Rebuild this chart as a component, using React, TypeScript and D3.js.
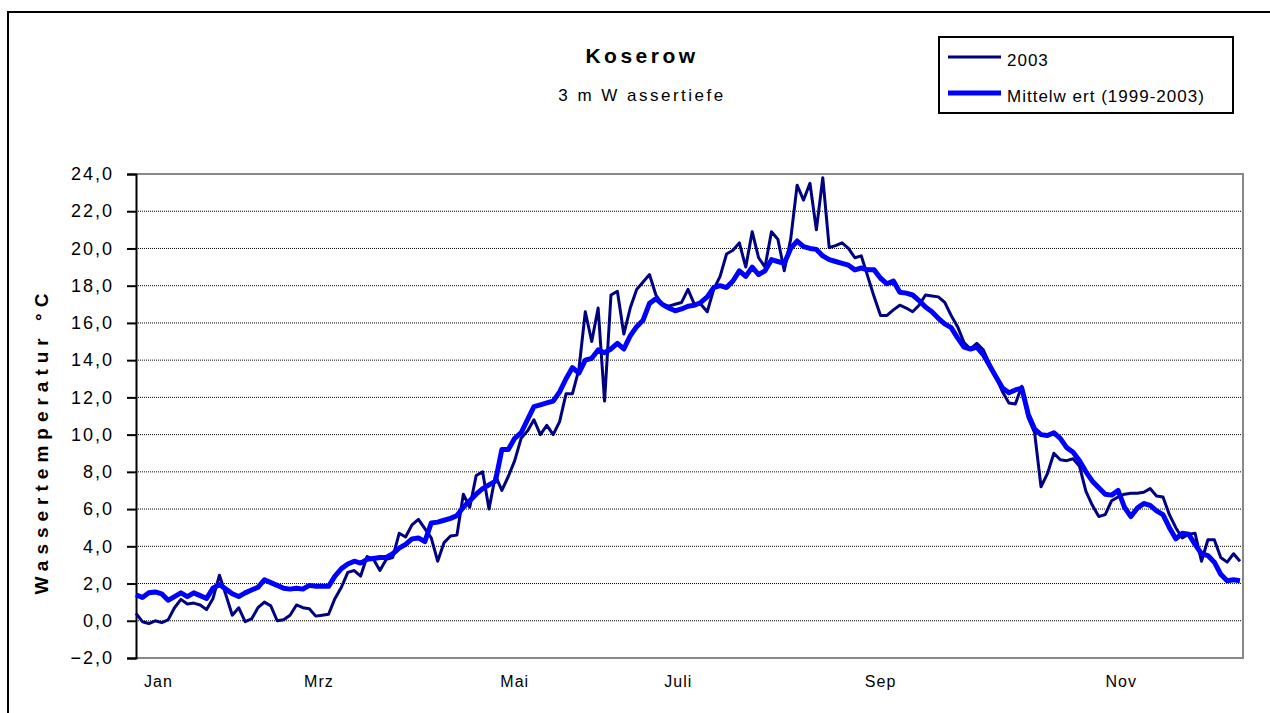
import * as d3 from "d3";
import { useEffect, useRef } from "react";

// Wassertemperatur in 3 m Tiefe, Werte alle 2 Tage
const values2003 = [
  0.4, -0.05, -0.15, 0.0, -0.1, 0.05, 0.7, 1.15, 0.9, 0.95,
  0.85, 0.6, 1.2, 2.45, 1.4, 0.3, 0.7, -0.05, 0.1, 0.7,
  1.0, 0.8, 0.0, 0.05, 0.3, 0.85, 0.7, 0.65, 0.25, 0.3,
  0.35, 1.2, 1.8, 2.6, 2.7, 2.4, 3.45, 3.3, 2.7, 3.3,
  3.4, 4.7, 4.5, 5.15, 5.45, 4.95, 4.45, 3.2, 4.2, 4.55,
  4.6, 6.8, 6.1, 7.8, 8.0, 6.0, 7.8, 7.0, 7.75, 8.6,
  9.8, 10.2, 10.8, 10.0, 10.5, 10.0, 10.7, 12.2, 12.2, 13.5,
  16.6, 15.0, 16.8, 11.8, 17.5, 17.7, 15.4, 16.8, 17.8, 18.2,
  18.6, 17.5, 17.0, 16.9, 17.0, 17.1, 17.8, 17.0, 17.0, 16.6,
  17.8, 18.5, 19.7, 19.9, 20.3, 19.0, 20.9, 19.5, 19.0, 20.9,
  20.5, 18.8, 20.5, 23.4, 22.6, 23.5, 21.0, 23.8, 20.05, 20.15,
  20.3, 20.0, 19.5, 19.6, 18.5, 17.4, 16.4, 16.4, 16.7, 16.95,
  16.8, 16.6, 16.95, 17.5, 17.45, 17.4, 17.1, 16.4, 15.8, 14.95,
  14.6, 14.9, 14.55, 13.8, 13.1, 12.3, 11.7, 11.65, 12.6, 10.9,
  10.1, 7.2, 7.9, 9.0, 8.65, 8.6, 8.7, 8.3, 6.95, 6.2,
  5.6, 5.7, 6.45, 6.65, 6.8, 6.85, 6.85, 6.9, 7.1, 6.7,
  6.65, 5.7, 5.0, 4.45, 4.65, 4.7, 3.2, 4.35, 4.35, 3.4,
  3.15, 3.6, 3.2,
];

const valuesMean = [
  1.4, 1.25, 1.5, 1.55, 1.45, 1.1, 1.3, 1.5, 1.3, 1.5,
  1.35, 1.2, 1.75, 1.95, 1.7, 1.45, 1.3, 1.5, 1.65, 1.8,
  2.2, 2.05, 1.9, 1.75, 1.7, 1.75, 1.7, 1.9, 1.85, 1.85,
  1.85, 2.4, 2.8, 3.05, 3.2, 3.1, 3.3, 3.35, 3.4, 3.4,
  3.6, 3.9, 4.1, 4.4, 4.45, 4.25, 5.25, 5.3, 5.4, 5.5,
  5.65, 6.1, 6.45, 6.8, 7.1, 7.3, 7.5, 9.2, 9.2, 9.8,
  10.1, 10.8, 11.5, 11.6, 11.7, 11.8, 12.3, 13.0, 13.6, 13.3,
  14.0, 14.1, 14.55, 14.4, 14.6, 14.9, 14.6, 15.3, 15.8, 16.15,
  17.05, 17.3, 17.0, 16.8, 16.65, 16.75, 16.9, 16.95, 17.1, 17.4,
  17.9, 18.0, 17.9, 18.25, 18.8, 18.5, 19.0, 18.6, 18.8, 19.4,
  19.3, 19.2, 20.0, 20.4, 20.1, 20.0, 19.95, 19.6, 19.4, 19.3,
  19.2, 19.1, 18.85, 18.95, 18.85, 18.85, 18.4, 18.1, 18.25, 17.65,
  17.6, 17.5, 17.2, 16.85, 16.6, 16.25, 15.95, 15.75, 15.2, 14.7,
  14.6, 14.7, 14.3, 13.7, 13.1, 12.5, 12.25, 12.4, 12.5, 11.1,
  10.3, 10.0, 9.95, 10.1, 9.8, 9.3, 9.05, 8.6, 8.0, 7.5,
  7.15, 6.8, 6.75, 7.0, 6.1, 5.6, 6.05, 6.3, 6.2, 5.9,
  5.7, 5.0, 4.4, 4.7, 4.65, 4.1, 3.6, 3.5, 3.15, 2.5,
  2.15, 2.2, 2.15,
];

const dayStep = 2;
const lastDay = 344;
const monthLabels = ["Jan", "Mrz", "Mai", "Juli", "Sep", "Nov"];
const monthDays = [7, 57, 118, 169, 232, 307];
const yTicks = [-2, 0, 2, 4, 6, 8, 10, 12, 14, 16, 18, 20, 22, 24];
const seriesNames = ["2003", "Mittelw ert (1999-2003)"];
const seriesColors = ["#000080", "#0000ff"];

const W = 1270;
const H = 713;
const FONT = "'Liberation Sans', Arial, sans-serif";

export default function App() {
  const ref = useRef<SVGSVGElement>(null);

  useEffect(() => {
    const svg = d3.select(ref.current);
    svg.selectAll("*").remove();

    const left = 136;
    const top = 174;
    const plotW = 1107;
    const plotH = 484;

    svg.append("rect").attr("width", W).attr("height", H).attr("fill", "#fff");
    // äußerer Rahmen
    svg
      .append("rect")
      .attr("x", 8)
      .attr("y", 12)
      .attr("width", W + 20)
      .attr("height", H + 20)
      .attr("fill", "none")
      .attr("stroke", "#000")
      .attr("stroke-width", 2);

    const x = d3.scaleLinear().domain([0, lastDay]).range([0, plotW - 3]);
    const y = d3.scaleLinear().domain([-2, 24]).range([plotH, 0]);

    const g = svg.append("g").attr("transform", `translate(${left},${top})`);

    // Gitterlinien
    g.selectAll(".grid")
      .data(yTicks.filter((t) => t > -2 && t < 24))
      .enter()
      .append("line")
      .attr("x1", 0)
      .attr("x2", plotW)
      .attr("y1", (d) => y(d))
      .attr("y2", (d) => y(d))
      .attr("stroke", "#000")
      .attr("stroke-width", 1)
      .attr("stroke-dasharray", "1,1");

    // Rahmen oben/rechts/unten
    g.append("path")
      .attr("d", `M0,${y(24)}H${plotW}V${y(-2)}H0`)
      .attr("fill", "none")
      .attr("stroke", "#888")
      .attr("stroke-width", 2);

    // Y-Achse
    const yAxis = d3
      .axisLeft(y)
      .tickValues(yTicks)
      .tickSize(9)
      .tickPadding(13)
      .tickFormat((d) => d3.format(".1f")(d as number).replace(".", ","));
    const ya = g.append("g").call(yAxis);
    ya.select(".domain").attr("stroke", "#000").attr("stroke-width", 2);
    ya.selectAll(".tick line").attr("stroke", "#000").attr("stroke-width", 2);
    ya.selectAll("text")
      .attr("font-family", FONT)
      .attr("font-size", 18)
      .attr("letter-spacing", 2)
      .attr("fill", "#000");

    // X-Beschriftung
    g.selectAll(".month")
      .data(monthLabels)
      .enter()
      .append("text")
      .attr("x", (d, i) => x(monthDays[i]))
      .attr("y", plotH + 29)
      .attr("text-anchor", "middle")
      .attr("font-family", FONT)
      .attr("font-size", 16)
      .attr("letter-spacing", 1)
      .text((d) => d);

    const line = d3
      .line<number>()
      .x((d, i) => x(i * dayStep))
      .y((d) => y(d))
      .curve(d3.curveLinear);

    g.append("path")
      .datum(values2003)
      .attr("d", line)
      .attr("fill", "none")
      .attr("stroke", seriesColors[0])
      .attr("stroke-width", 3)
      .attr("stroke-linejoin", "round");

    g.append("path")
      .datum(valuesMean)
      .attr("d", line)
      .attr("fill", "none")
      .attr("stroke", seriesColors[1])
      .attr("stroke-width", 5)
      .attr("stroke-linejoin", "round");

    // Titel
    svg
      .append("text")
      .attr("x", 642)
      .attr("y", 63)
      .attr("text-anchor", "middle")
      .attr("font-family", FONT)
      .attr("font-weight", "bold")
      .attr("font-size", 21)
      .attr("letter-spacing", 3.5)
      .text("Koserow");
    svg
      .append("text")
      .attr("x", 642)
      .attr("y", 101)
      .attr("text-anchor", "middle")
      .attr("font-family", FONT)
      .attr("font-size", 17)
      .attr("letter-spacing", 2.5)
      .text("3 m W assertiefe");

    // Achsentitel
    svg
      .append("text")
      .attr("transform", `translate(48,441) rotate(-90)`)
      .attr("text-anchor", "middle")
      .attr("font-family", FONT)
      .attr("font-weight", "bold")
      .attr("font-size", 19)
      .attr("letter-spacing", 6)
      .text("Wassertemperatur  °C");

    // Legende
    const lg = svg.append("g").attr("transform", "translate(939,37)");
    lg.append("rect")
      .attr("width", 294)
      .attr("height", 76)
      .attr("fill", "#fff")
      .attr("stroke", "#000")
      .attr("stroke-width", 2);
    seriesNames.forEach((name, i) => {
      const ly = 20 + i * 36;
      lg.append("line")
        .attr("x1", 9)
        .attr("x2", 62)
        .attr("y1", ly)
        .attr("y2", ly)
        .attr("stroke", seriesColors[i])
        .attr("stroke-width", i === 0 ? 3 : 5);
      lg.append("text")
        .attr("x", 68)
        .attr("y", ly + 9)
        .attr("font-family", FONT)
        .attr("font-size", 17)
        .attr("letter-spacing", 1)
        .text(name);
    });
  }, []);

  return (
    <svg
      ref={ref}
      width={W}
      height={H}
      style={{ position: "absolute", left: 0, top: 0 }}
    />
  );
}
